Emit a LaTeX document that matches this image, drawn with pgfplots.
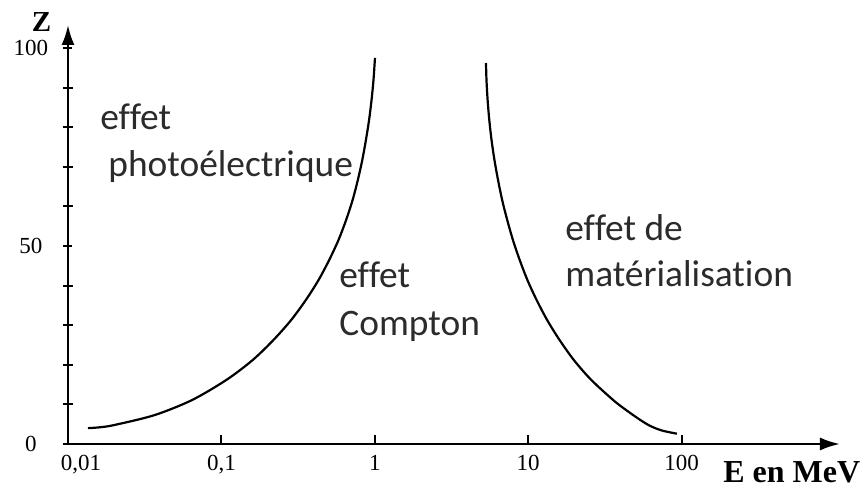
\documentclass[border=0pt]{standalone}
\usepackage{pgfplots}
\pgfplotsset{compat=1.18}
\usepackage{fontspec}
\setmainfont{Liberation Serif}
\newfontfamily\calib[Ligatures=NoCommon]{Carlito}
\usetikzlibrary{arrows.meta}
\definecolor{txt}{HTML}{2B2B2B}
\begin{document}
\begin{tikzpicture}
\useasboundingbox (-34pt,-23.5pt) rectangle (398pt,222pt);
\begin{axis}[
  at={(0,0)}, anchor=south west,
  xmode=log, scale only axis,
  width=386pt, height=209.5pt,
  xmin=0.01, xmax=1079, ymin=0, ymax=105.8,
  axis lines=left,
  axis line style={line width=1.2pt, -{Latex[length=10pt,width=6.5pt]}},
  xtick={0.01,0.1,1,10,100},
  xticklabels={{\hspace*{13pt}0,01},{0,1},1,10,100},
  ytick={0,50,100},
  yticklabels={0,50,100},
  minor ytick={10,20,30,40,60,70,80,90},
  xminorticks=false,
  tick align=inside,
  major tick length=4.5pt, minor tick length=5pt,
  every tick/.style={line width=1pt, black},
  y tick style={xshift=-2.5pt},
  tick label style={font=\fontsize{11.5}{13}\selectfont},
  xticklabel style={anchor=north, inner sep=0pt, yshift=-5.5pt},
  yticklabel style={anchor=center, inner sep=0pt, xshift=-18.5pt},
  xlabel={\fontsize{16}{18}\selectfont\bfseries E en MeV},
  xlabel style={at={(axis description cs:0.8485,-0.0931)}, anchor=base west, inner sep=0pt},
  ylabel={\fontsize{14.5}{16}\selectfont\bfseries Z},
  ylabel style={at={(axis description cs:-0.0343,0.9833)}, anchor=base, rotate=-90, inner sep=0pt},
  clip=false,
]
\addplot[black, line width=1.1pt, smooth] coordinates {
  (0.0135,4.0) (0.01617,4.22) (0.0201,4.8) (0.0367,7.3) (0.0644,11.1)
  (0.108,16.2) (0.160,21.2) (0.219,26.3) (0.285,31.3) (0.356,36.4)
  (0.430,41.4) (0.505,46.5) (0.580,51.5) (0.651,56.6) (0.717,61.6)
  (0.776,66.7) (0.829,71.7) (0.876,76.8) (0.918,81.8) (0.953,86.9)
  (0.981,91.9) (1.003,97.5)
};
\addplot[black, line width=1.1pt, smooth] coordinates {
  (5.31,96.2) (5.35,91.9) (5.44,86.9) (5.58,81.8) (5.77,76.8)
  (6.03,71.7) (6.36,66.7) (6.77,61.6) (7.30,56.6) (7.96,51.5)
  (8.80,46.5) (9.89,41.4) (11.34,36.4) (13.30,31.3) (16.00,26.3)
  (19.86,21.2) (25.75,16.2) (35.83,11.1) (43.4,8.6) (53.2,6.2)
  (62.2,4.6) (74.5,3.4) (93.3,2.6)
};
\end{axis}
\begin{scope}[every node/.style={inner sep=0pt, anchor=base west, text=txt, font=\calib\fontsize{18.7}{22}\selectfont}]
\node at (16pt,157pt) {effet};
\node at (20pt,133.5pt) {photoélectrique};
\node at (135.5pt,78pt) {effet};
\node at (135.5pt,54pt) {Compton};
\node at (248.5pt,101.5pt) {effet de};
\node at (248.5pt,78.5pt) {matérialisation};
\end{scope}
\end{tikzpicture}
\end{document}
